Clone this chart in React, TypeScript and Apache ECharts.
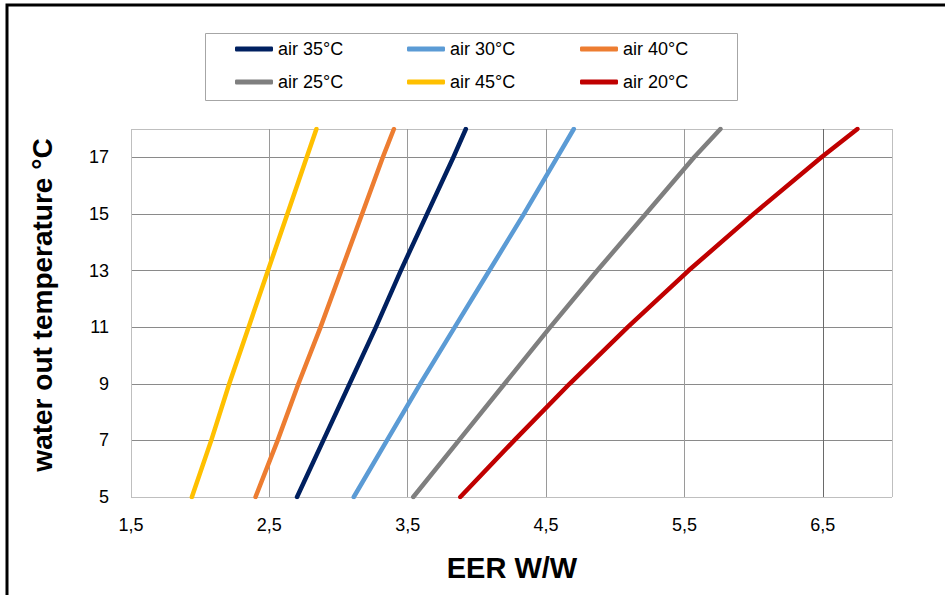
import React, { useEffect, useRef } from "react";
import * as echarts from "echarts";

const temps = [5, 7, 9, 11, 13, 15, 17, 18];
const air35 = [2.7, 2.89, 3.08, 3.27, 3.45, 3.64, 3.83, 3.92];
const air30 = [3.11, 3.35, 3.59, 3.84, 4.09, 4.34, 4.58, 4.7];
const air40 = [2.4, 2.56, 2.71, 2.87, 3.02, 3.17, 3.32, 3.4];
const air25 = [3.54, 3.87, 4.2, 4.53, 4.87, 5.22, 5.57, 5.76];
const air45 = [1.94, 2.08, 2.21, 2.35, 2.49, 2.63, 2.77, 2.84];
const air20 = [3.88, 4.27, 4.67, 5.09, 5.53, 6.0, 6.49, 6.75];

const seriesNames = ["air 35°C", "air 30°C", "air 40°C", "air 25°C", "air 45°C", "air 20°C"];
const seriesValues = [air35, air30, air40, air25, air45, air20];
const seriesColors = ["#002060", "#5B9BD5", "#ED7D31", "#7F7F7F", "#FFC000", "#C00000"];

const FONT = "'Liberation Sans', Arial, sans-serif";

export default function App() {
  const ref = useRef<HTMLDivElement>(null);
  useEffect(() => {
    if (!ref.current) return;
    const chart = echarts.init(ref.current, undefined, { renderer: "svg" });
    const legendPos = [
      [235, 40],
      [407, 40],
      [580, 40],
      [235, 73],
      [407, 73],
      [580, 73],
    ];
    chart.setOption({
      animation: false,
      backgroundColor: "#ffffff",
      grid: { left: 131, right: 53, top: 129, bottom: 98, containLabel: false },
      legend: seriesNames.map((n, i) => ({
        data: [n],
        left: legendPos[i][0],
        top: legendPos[i][1],
        padding: 0,
        itemWidth: 38,
        itemHeight: 5,
        itemGap: 0,
        icon: "roundRect",
        selectedMode: false,
        textStyle: { fontFamily: FONT, fontSize: 18, color: "#000" },
      })),
      xAxis: {
        type: "value",
        min: 1.5,
        max: 7,
        interval: 1,
        axisLine: { show: false },
        axisTick: { show: false },
        axisLabel: {
          showMaxLabel: false,
          margin: 19,
          fontFamily: FONT,
          fontSize: 18,
          color: "#000",
          formatter: (v: number) => v.toFixed(1).replace(".", ","),
        },
        splitLine: {
          show: true,
          lineStyle: {
            color: ["#bfbfbf", "#9a9a9a", "#9a9a9a", "#9a9a9a", "#9a9a9a", "#6a6a6a", "#bfbfbf"],
            width: 1,
          },
        },
      },
      yAxis: {
        type: "value",
        min: 5,
        max: 18,
        interval: 2,
        axisLine: { show: false },
        axisTick: { show: false },
        axisLabel: {
          showMaxLabel: false,
          margin: 22,
          fontFamily: FONT,
          fontSize: 18,
          color: "#000",
        },
        splitLine: {
          show: true,
          lineStyle: {
            color: ["#bfbfbf", "#8a8a8a", "#8a8a8a", "#8a8a8a", "#8a8a8a", "#8a8a8a", "#8a8a8a", "#bfbfbf"],
            width: 1,
          },
        },
      },
      series: seriesNames.map((n, i) => ({
        name: n,
        type: "line",
        data: seriesValues[i].map((v, j) => [v, temps[j]]),
        showSymbol: false,
        symbol: "none",
        smooth: false,
        clip: true,
        lineStyle: { color: seriesColors[i], width: 4.5, cap: "round", join: "round" },
        itemStyle: { color: seriesColors[i] },
      })),
      graphic: [
        {
          type: "rect",
          shape: { x: 7, y: 5, width: 1000, height: 1000 },
          style: { fill: "none", stroke: "#000", lineWidth: 3 },
          silent: true,
        },
        {
          type: "rect",
          shape: { x: 205.5, y: 33.5, width: 532, height: 67 },
          style: { fill: "none", stroke: "#a6a6a6", lineWidth: 1 },
          silent: true,
        },
        {
          type: "text",
          x: 42,
          y: 305,
          rotation: Math.PI / 2,
          style: {
            text: "water out temperature °C",
            fontFamily: FONT,
            fontSize: 28,
            fontWeight: "bold",
            fill: "#000",
            align: "center",
            verticalAlign: "middle",
          },
        },
        {
          type: "text",
          x: 512,
          y: 568,
          style: {
            text: "EER W/W",
            fontFamily: FONT,
            fontSize: 29,
            fontWeight: "bold",
            fill: "#000",
            align: "center",
            verticalAlign: "middle",
          },
        },
      ],
    });
    return () => chart.dispose();
  }, []);
  return (
    <div
      ref={ref}
      style={{ position: "fixed", left: 0, top: 0, width: 945, height: 595 }}
    />
  );
}
